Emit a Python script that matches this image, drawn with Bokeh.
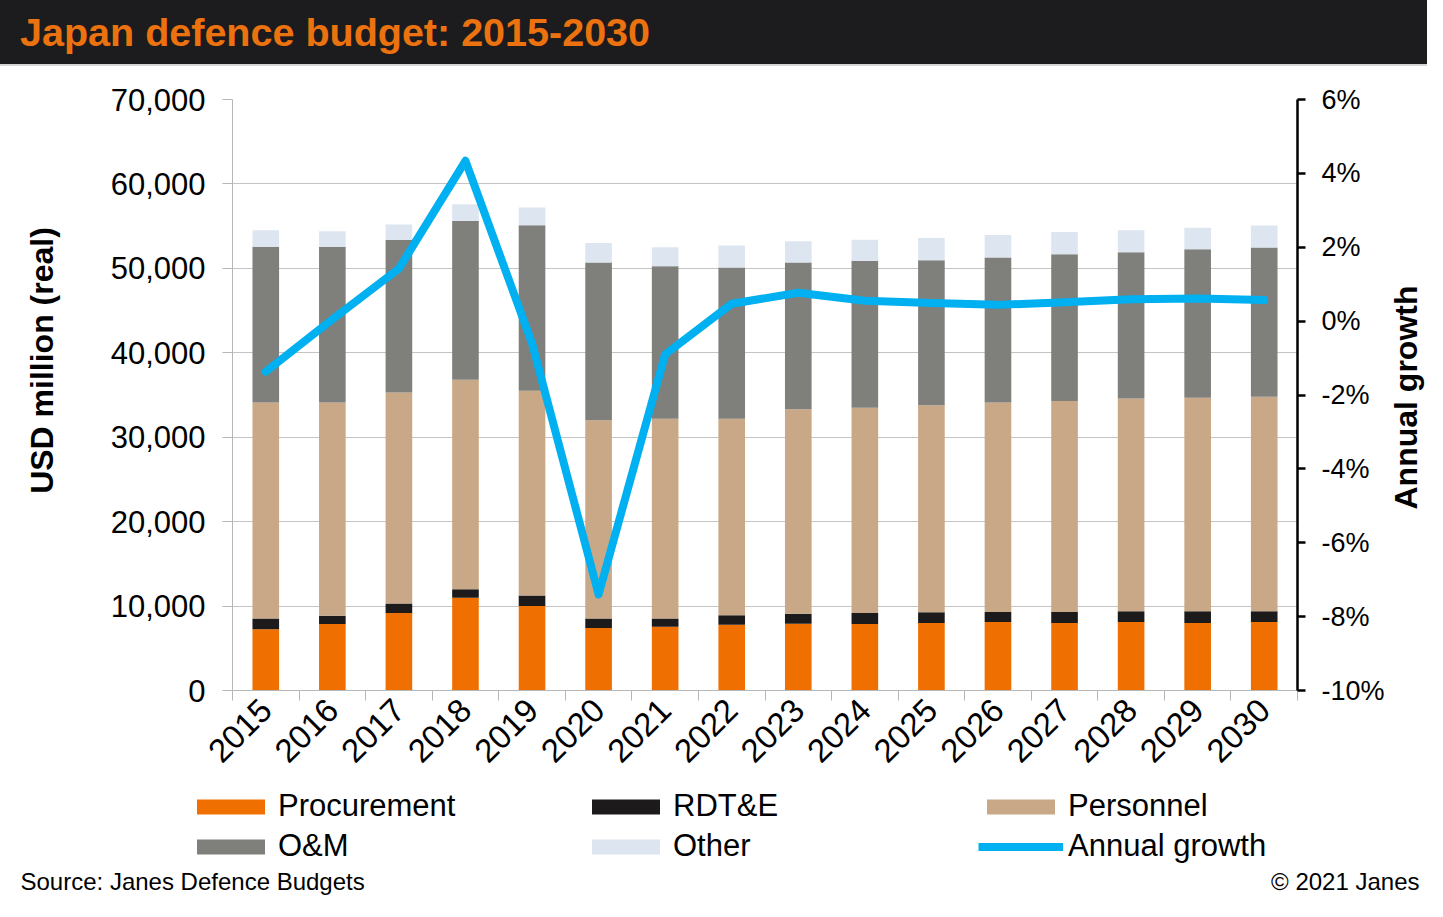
from math import pi
from bokeh.plotting import figure
from bokeh.models import (Range1d, LinearAxis, FixedTicker, NumeralTickFormatter,
                          PrintfTickFormatter, Legend, LegendItem, Label, Div,
                          ColumnDataSource, Grid)
from bokeh.layouts import column, row
from bokeh.embed import file_html
from bokeh.resources import INLINE

# ---------------- data ----------------
years = list(range(2015, 2031))
procurement = [7260, 7870, 9180, 11000, 10000, 7400, 7540, 7780, 7900, 7870, 8000, 8100, 8000, 8100, 8000, 8100]
rdte = [1260, 980, 1120, 1000, 1240, 1120, 980, 1120, 1190, 1310, 1270, 1200, 1300, 1300, 1400, 1300]
personnel = [25580, 25250, 25000, 24800, 24260, 23480, 23680, 23300, 24210, 24320, 24530, 24800, 25000, 25200, 25260, 25400]
om = [18450, 18450, 18050, 18800, 19600, 18700, 18060, 17900, 17400, 17400, 17160, 17200, 17360, 17300, 17610, 17660]
other = [1950, 1850, 1850, 2000, 2100, 2300, 2240, 2600, 2500, 2500, 2640, 2660, 2640, 2600, 2530, 2620]
growth = [-1.37, 0.05, 1.42, 4.34, -0.6, -7.4, -0.9, 0.47, 0.77, 0.55, 0.49, 0.44, 0.51, 0.59, 0.61, 0.57]

series_names = ["Procurement", "RDT&E", "Personnel", "O&M", "Other"]
series_keys = ["proc", "rdte", "pers", "om", "other"]
series_colors = ["#ef7000", "#1c1a1b", "#c8a886", "#7f7f7b", "#dde6f0"]
growth_name = "Annual growth"
growth_color = "#00b0f0"
left_ticks = [0, 10000, 20000, 30000, 40000, 50000, 60000, 70000]
right_ticks = [-10, -8, -6, -4, -2, 0, 2, 4, 6]

FONT = "Liberation Sans"
W = 1427
MAIN_H = 720

src = ColumnDataSource(dict(year=years, proc=procurement, rdte=rdte, pers=personnel,
                            om=om, other=other, growth=growth))


def blank_fig(width, height):
    f = figure(width=width, height=height, x_range=Range1d(0, width), y_range=Range1d(0, height),
               output_backend="svg", toolbar_location=None, x_axis_type=None, y_axis_type=None,
               min_border=0, min_border_left=0, min_border_right=0, min_border_top=0,
               min_border_bottom=0)
    f.outline_line_color = None
    f.grid.visible = False
    f.background_fill_color = "white"
    f.border_fill_color = "white"
    return f


# ---------------- title bar ----------------
title = Div(text='<span style="margin-left:20px; white-space:nowrap">Japan defence budget: 2015-2030</span>',
            width=W, height=66, margin=0,
            styles={"background-color": "#1c1c1e", "color": "#ec7210",
                    "font-family": "'Liberation Sans', Arial, sans-serif",
                    "font-weight": "bold", "font-size": "39.5px", "line-height": "64px",
                    "overflow": "hidden", "box-sizing": "border-box",
                    "border-bottom": "2px solid #d6d6d6"})

# ---------------- main figure ----------------
p = figure(width=1318, height=MAIN_H, x_range=Range1d(2014.5, 2030.5),
           y_range=Range1d(0, 70000), output_backend="svg", toolbar_location=None,
           x_axis_type=None, y_axis_type=None,
           min_border_left=162, min_border_right=91, min_border_top=33, min_border_bottom=96)
p.outline_line_color = None
p.background_fill_color = "white"
p.border_fill_color = "white"
p.extra_y_ranges = {"pct": Range1d(-10, 6)}

# left axis
lax = LinearAxis(ticker=FixedTicker(ticks=left_ticks), formatter=NumeralTickFormatter(format="0,0"))
lax.axis_line_color = "#b7b7b7"
lax.major_tick_line_color = "#b7b7b7"
lax.major_tick_out = 10
lax.major_tick_in = 0
lax.minor_tick_line_color = None
lax.major_label_text_font = FONT
lax.major_label_text_font_size = "31px"
lax.major_label_text_color = "black"
lax.major_label_standoff = 17
p.add_layout(lax, "left")

grid = Grid(dimension=1, ticker=lax.ticker, grid_line_color="#c4c4c4", grid_line_width=1)
p.add_layout(grid)

# bottom axis
bax = LinearAxis(ticker=FixedTicker(ticks=years,
                                    minor_ticks=[y - 0.5 for y in years] + [years[-1] + 0.5]),
                 formatter=PrintfTickFormatter(format="%d"))
bax.axis_line_color = "#b7b7b7"
bax.major_tick_line_color = None
bax.minor_tick_line_color = "#b7b7b7"
bax.minor_tick_out = 10
bax.minor_tick_in = 0
bax.major_label_orientation = pi / 4
bax.major_label_text_font = FONT
bax.major_label_text_font_size = "33px"
bax.major_label_text_color = "black"
bax.major_label_standoff = 4
p.add_layout(bax, "below")

# right axis
rax = LinearAxis(y_range_name="pct", ticker=FixedTicker(ticks=right_ticks),
                 formatter=PrintfTickFormatter(format="%d%%"))
rax.axis_line_color = "black"
rax.axis_line_width = 2.5
rax.major_tick_line_color = "black"
rax.major_tick_line_width = 2.5
rax.major_tick_out = 8
rax.major_tick_in = 0
rax.minor_tick_line_color = None
rax.major_label_text_font = FONT
rax.major_label_text_font_size = "27px"
rax.major_label_text_color = "black"
rax.major_label_standoff = 16
p.add_layout(rax, "right")

# bars
bars = p.vbar_stack(series_keys, x="year", width=0.4, fill_color=series_colors,
                    line_color=None, source=src)
# growth line
gline = p.line("year", "growth", source=src, y_range_name="pct", line_width=8,
               line_color=growth_color, line_cap="round", line_join="round")

# ---------------- side label figures (frames align with main frame) ----------------
fl = blank_fig(70, MAIN_H)
fl.add_layout(Label(x=41, y=330, x_units="screen", y_units="screen", angle=pi / 2,
                    text="USD million (real)", text_font=FONT, text_font_size="32px",
                    text_font_style="bold", text_align="center", text_baseline="middle",
                    text_color="black"))

fr = blank_fig(39, MAIN_H)
fr.add_layout(Label(x=17, y=293, x_units="screen", y_units="screen", angle=pi / 2,
                    text="Annual growth", text_font=FONT, text_font_size="32px",
                    text_font_style="bold", text_align="center", text_baseline="middle",
                    text_color="black"))

# ---------------- legend + footer figure ----------------
LEG_H = 115
fb = blank_fig(W, LEG_H)
# hidden copies of the series (they only supply the legend swatches)
proxy = fb.vbar_stack(series_keys, x="year", width=0.4, fill_color=series_colors,
                      line_color=None, source=src)
for r in proxy:
    r.visible = False
gproxy = fb.line("year", "growth", source=src, line_width=8, line_color=growth_color,
                 line_cap="butt")
gproxy.visible = False
items = [LegendItem(label=n, renderers=[r]) for n, r in zip(series_names, proxy)]
items.append(LegendItem(label=growth_name, renderers=[gproxy]))
legend = Legend(items=items, location=(188, 37), orientation="horizontal", ncols=3,
                glyph_width=85, glyph_height=19, label_standoff=5, label_width=301,
                label_height=34, spacing=4, padding=0, margin=0,
                border_line_color=None, background_fill_alpha=0,
                inactive_fill_alpha=0, click_policy="none",
                label_text_font=FONT, label_text_font_size="31px", label_text_color="black")
fb.add_layout(legend)
fb.add_layout(Label(x=20, y=20, x_units="screen", y_units="screen",
                    text="Source: Janes Defence Budgets", text_font=FONT, text_font_size="24px",
                    text_align="left", text_baseline="middle", text_color="black"))
fb.add_layout(Label(x=1419, y=20, x_units="screen", y_units="screen",
                    text="\u00a9 2021 Janes", text_font=FONT, text_font_size="24px",
                    text_align="right", text_baseline="middle", text_color="black"))

layout = column(title, row(fl, p, fr, spacing=0), fb, spacing=0)
open("out.html", "w").write(file_html(layout, INLINE))
